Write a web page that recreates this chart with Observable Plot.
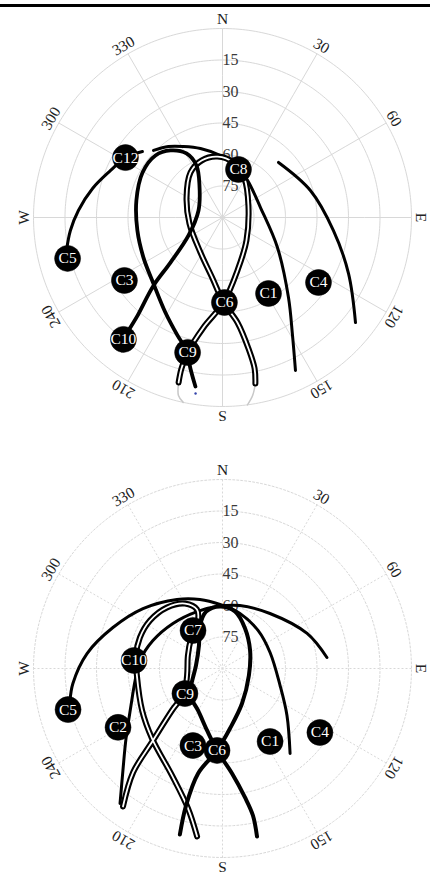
<!DOCTYPE html>
<html><head><meta charset="utf-8">
<script src="https://cdn.jsdelivr.net/npm/d3@7"></script>
<script src="https://cdn.jsdelivr.net/npm/@observablehq/plot@0.6"></script>
<style>
html,body{margin:0;padding:0;background:#fff;}
#wrap{position:relative;width:430px;height:877px;overflow:hidden;background:#fff;}
#rule{position:absolute;left:0;top:4px;width:430px;height:3px;background:#000;}
#p1{position:absolute;left:0;top:0;}
#p2{position:absolute;left:0;top:440px;}
</style></head><body>
<div id="wrap"><div id="p1"></div><div id="p2"></div><div id="rule"></div></div>
<script>
// ---- axis ticks ----
const azTicks = [0,30,60,90,120,150,180,210,240,270,300,330];
const azTickLabels = ["N","30","60","E","120","150","S","210","240","W","300","330"];
const elRings = [0,15,30,45,60,75];
const elTickValues = [15,30,45,60,75];
const elTickLabels = ["15","30","45","60","75"];

// ---- top panel: satellite labels (azimuth, elevation) ----
const topNames = ["C12","C8","C5","C3","C10","C9","C6","C1","C4"];
const topAz = [301.7,18.4,255.2,237.3,219.1,194.5,178.7,148.8,124.1];
const topEl = [35.7,65.9,13.7,34.5,15.2,23.6,49.5,47.7,34.8];

// top panel tracks, [azimuth, elevation]
const topTrackA = [[309.5,40.6],[301.7,35.7],[292.8,32.2],[282.6,26.6],[272.8,21.3],[265.1,17.3],[258.1,14.1]];
const topTrackB = [[314.2,44.2],[322.7,47.5],[331.2,51.4],[342.3,55.5],[358.2,60.5],[15.4,64.8],[34.0,68.7],[75.3,71.3],[118.6,60.2],[140.5,40.6],[149.3,24.7],[154.5,9.3]];
const topTrackC = [[45.5,52.6],[72.9,46.2],[96.7,36.8],[114.0,24.3],[128.3,9.3]];
const topLoop1 = [[189.1,8.5],[192.0,16.5],[195.1,24.4],[200.9,29.9],[211.0,37.2],[226.3,44.5],[243.1,47.8],[261.3,49.0],[281.2,48.2],[299.4,46.3],[312.8,46.5],[322.2,49.6],[330.6,55.0],[333.4,62.3],[324.3,71.2],[286.3,78.1],[242.1,71.7],[229.1,57.2],[225.4,43.9],[220.9,28.2],[219.2,16.9],[217.2,10.5]];
const topLoop2 = [[194.9,8.7],[195.2,15.5],[194.5,23.6],[189.8,36.9],[179.3,49.5],[164.2,63.8],[133.8,74.2],[65.2,76.4],[29.4,68.7],[11.3,63.3],[355.3,60.9],[339.8,61.1],[324.6,63.7],[299.1,70.4],[259.7,74.0],[212.2,70.3],[189.3,60.6],[179.3,49.5],[171.9,39.5],[168.8,26.4],[168.0,16.5],[168.8,9.4]];
const topFadeRight = [[168.8,9.4],[170.4,4.0],[172.4,0.0]];
const topFadeLeft = [[194.9,8.7],[193.9,2.7],[192.0,0.0]];
const topMarker = [[188.7,5.2]];

// ---- bottom panel ----
const botNames = ["C5","C2","C10","C7","C9","C3","C6","C1","C4"];
const botAz = [255.1,240.6,275.2,322.2,236.3,201.0,183.8,146.9,123.3];
const botEl = [13.9,32.9,47.7,67.1,68.5,50.7,50.9,48.5,34.5];

const botTrack1 = [[258.1,15.8],[264.3,18.4],[276.3,25.1],[290.5,34.3],[307.0,42.6],[326.6,50.6],[341.9,55.4],[357.8,59.5],[17.6,62.5],[43.0,65.2],[71.4,66.1],[106.5,61.4],[126.1,52.0],[141.5,38.3]];
const botTrack2 = [[217.2,9.3],[224.3,22.1],[234.0,33.2],[248.0,43.0],[262.2,48.0],[275.5,50.5],[291.9,54.3],[312.3,58.1],[335.9,60.3],[354.9,60.4],[15.5,58.9],[40.8,55.4],[67.5,46.4],[84.0,40.0]];
const botLoop3 = [[215.8,9.0],[220.7,24.7],[224.0,42.3],[230.3,58.7],[237.0,68.1],[258.8,72.8],[290.6,72.4],[313.6,69.3],[333.0,64.3],[336.6,59.4],[330.0,54.3],[317.7,50.7],[303.5,48.6],[290.6,48.0],[278.5,48.3],[265.3,49.1],[242.4,46.8],[225.2,42.7],[205.3,33.7],[193.8,21.3],[188.6,9.1]];
const botLoop4 = [[194.4,8.4],[194.9,22.5],[193.1,38.7],[183.8,50.9],[172.9,61.2],[150.9,70.9],[104.8,77.0],[56.8,74.3],[29.4,68.1],[12.4,62.2],[357.7,60.4],[343.9,61.8],[332.4,66.9],[314.4,74.3],[276.5,77.3],[241.6,73.0],[230.3,69.9],[210.3,66.9],[194.0,59.6],[183.8,50.9],[174.8,39.8],[170.1,27.7],[168.3,18.5],[168.4,8.3]];

// ---- helpers ----
const SERIF = "Liberation Serif, Times New Roman, serif";
const lon = d => 180 - d[0];
const lat = d => d[1];
const tickRows = azTicks.map((a, i) => ({az: a, label: azTickLabels[i]}));
const elRows = elTickValues.map((e, i) => ({el: e, label: elTickLabels[i]}));

function gridMarks(dash) {
  const g = [];
  for (const e of elRings) {
    g.push(Plot.geo(d3.geoCircle().center([0, 90]).radius(90 - e).precision(1)(), {
      fill: "none", stroke: "#d8d8d8", strokeWidth: 1, strokeDasharray: dash
    }));
  }
  g.push(Plot.link(azTicks, {
    x1: a => 180 - a, y1: 0, x2: a => 180 - a, y2: 90,
    stroke: "#d8d8d8", strokeWidth: 1, strokeDasharray: dash
  }));
  g.push(Plot.text(tickRows, {
    x: d => 180 - d.az, y: -4.3, text: "label", rotate: d => d.az,
    fontSize: 15.5, fontFamily: SERIF, fill: "#222"
  }));
  g.push(Plot.text(elRows, {
    x: 180, y: "el", text: "label", textAnchor: "start", dx: 0,
    fontSize: 16, fontFamily: SERIF, fill: "#3a3a3a"
  }));
  return g;
}

function single(arr, w) {
  return Plot.line(arr, {x: lon, y: lat, stroke: "#000", strokeWidth: w, curve: "catmull-rom"});
}
function double(arr) {
  return [
    Plot.line(arr, {x: lon, y: lat, stroke: "#000", strokeWidth: 6, curve: "catmull-rom"}),
    Plot.line(arr, {x: lon, y: lat, stroke: "#fff", strokeWidth: 1.8, curve: "catmull-rom"})
  ];
}
function satMarks(names, az, el) {
  const m = [];
  names.forEach((n, i) => {
    const row = [{n, az: az[i], el: el[i]}];
    m.push(Plot.dot(row, {x: d => 180 - d.az, y: "el", r: 13, fill: "#000", stroke: "#000", strokeWidth: 0.5}));
    m.push(Plot.text(row, {x: d => 180 - d.az, y: "el", text: "n", fill: "#fff", fontSize: 15.5, fontFamily: SERIF}));
  });
  return m;
}

function panel(height, mt, mb, marks) {
  return Plot.plot({
    width: 430, height,
    marginLeft: 33, marginRight: 19, marginTop: mt, marginBottom: mb,
    projection: {
      type: "azimuthal-equidistant",
      rotate: [0, -90],
      clip: false,
      domain: d3.geoCircle().center([0, 90]).radius(90)()
    },
    style: {background: "transparent", fontFamily: SERIF},
    marks
  });
}

const topChart = panel(440, 28, 34, [
  ...gridMarks(null),
  Plot.line(topFadeRight, {x: lon, y: lat, stroke: "#c8c8c8", strokeWidth: 1.5, curve: "catmull-rom"}),
  Plot.line(topFadeLeft, {x: lon, y: lat, stroke: "#c8c8c8", strokeWidth: 1.5, curve: "catmull-rom"}),
  Plot.dot(topMarker, {x: lon, y: lat, r: 1.2, fill: "#3344aa"}),
  single(topTrackA, 3),
  single(topTrackB, 3),
  single(topTrackC, 3),
  ...double(topLoop2),
  single(topLoop1, 3.8),
  ...satMarks(topNames, topAz, topEl)
]);
document.getElementById("p1").appendChild(topChart);

const botChart = panel(437, 39, 20, [
  ...gridMarks("2,2"),
  single(botTrack1, 3),
  single(botTrack2, 3),
  ...double(botLoop3),
  single(botLoop4, 4),
  ...satMarks(botNames, botAz, botEl)
]);
document.getElementById("p2").appendChild(botChart);
</script></body></html>
